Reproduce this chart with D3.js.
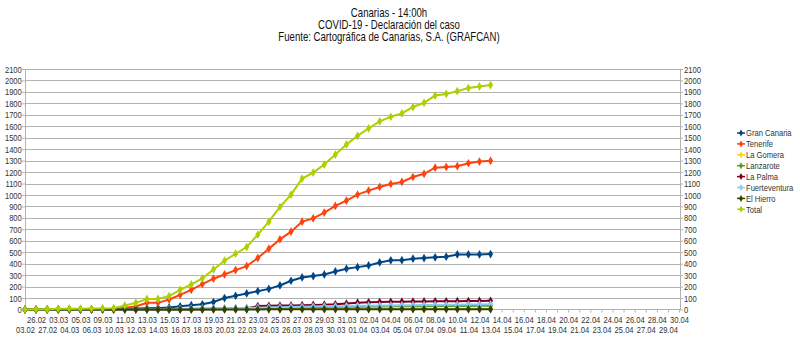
<!DOCTYPE html>
<html lang="es">
<head>
  <meta charset="UTF-8">
  <title>Canarias - COVID-19</title>
  <script src="https://d3js.org/d3.v7.min.js"></script>
  <style>
    body { margin: 0; background: #fff; }
    text { font-family: "Liberation Sans", Arial, sans-serif; fill: #333; }
  </style>
</head>
<body>
  <svg id="chart" width="800" height="340"></svg>
  <script>
    // categorias (fechas) del eje X
    const fechas = ["03.02", "26.02", "27.02", "03.03", "04.03", "05.03", "06.03",
      "09.03", "10.03", "11.03", "12.03", "13.03", "14.03", "15.03", "16.03", "17.03",
      "18.03", "19.03", "20.03", "21.03", "22.03", "23.03", "24.03", "25.03", "26.03",
      "27.03", "28.03", "29.03", "30.03", "31.03", "01.04", "02.04", "03.04", "04.04",
      "05.04", "06.04", "07.04", "08.04", "09.04", "10.04", "11.04", "12.04", "13.04",
      "14.04", "15.04", "16.04", "17.04", "18.04", "19.04", "20.04", "21.04", "22.04",
      "23.04", "24.04", "25.04", "26.04", "27.04", "28.04", "29.04", "30.04"];

    const grancanaria = [0, 0, 1, 1, 1, 1, 2, 2, 3, 5, 8, 12, 14, 18, 28, 38, 45, 65, 100, 120,
      140, 160, 180, 210, 251, 280, 292, 306, 332, 356, 370, 385, 411, 429, 431, 444,
      449, 456, 461, 481, 481, 481, 484];
    const tenerife = [0, 0, 0, 1, 1, 1, 1, 2, 3, 15, 26, 58, 58, 87, 128, 172, 222, 269,
      306, 344, 379, 449, 531, 612, 680, 767, 796, 846, 904, 951, 1003, 1038, 1070,
      1096, 1114, 1157, 1185, 1238, 1245, 1251, 1277, 1292, 1298];
    const lagomera = [1, 1, 1, 1, 1, 1, 1, 1, 1, 1, 1, 1, 1, 1, 2, 2, 3, 3, 3, 3, 4, 4,
      4, 5, 5, 5, 6, 6, 6, 6, 6, 6, 7, 7, 7, 7, 7, 7, 7, 7, 7, 7, 7];
    const lanzarote = [0, 0, 0, 0, 0, 0, 0, 0, 0, 1, 2, 3, 3, 4, 5, 6, 8, 9, 10, 12, 13,
      15, 16, 18, 19, 20, 21, 22, 23, 24, 25, 26, 27, 28, 28, 29, 29, 30, 30, 31, 31,
      32, 33];
    const lapalma = [0, 0, 0, 0, 0, 0, 0, 0, 0, 0, 0, 0, 0, 0, 0, 1, 2, 3, 4, 5, 8,
      30, 32, 34, 36, 38, 40, 42, 45, 52, 60, 63, 65, 67, 68, 69, 70, 71, 72, 73, 74,
      75, 76];
    const fuerteventura = [0, 0, 0, 0, 0, 0, 0, 0, 0, 0, 1, 1, 2, 3, 4, 5, 7, 8, 10, 12,
      14, 16, 18, 20, 22, 24, 26, 28, 29, 30, 32, 33, 34, 36, 37, 38, 39, 40, 41, 42,
      43, 44, 45];
    const elhierro = [0, 0, 0, 0, 0, 0, 0, 0, 0, 0, 0, 0, 0, 0, 0, 0, 0, 0, 0, 1, 1, 1,
      2, 2, 2, 3, 3, 3, 3, 3, 3, 3, 3, 3, 3, 3, 3, 3, 3, 3, 3, 3, 3];
    const total = [1, 2, 3, 6, 7, 7, 8, 9, 12, 35, 58, 92, 92, 117, 172, 219, 272, 350,
      426, 487, 545, 653, 767, 895, 1003, 1143, 1196, 1266, 1353, 1441, 1516, 1581,
      1642, 1683, 1712, 1768, 1805, 1868, 1882, 1907, 1934, 1948, 1960];

    const nombres = ["Gran Canaria", "Tenerife", "La Gomera", "Lanzarote", "La Palma",
      "Fuerteventura", "El Hierro", "Total"];
    const valores = [grancanaria, tenerife, lagomera, lanzarote, lapalma, fuerteventura,
      elhierro, total];
    const colores = ["#004586", "#ff420e", "#ffd320", "#579d1c", "#7e0021", "#83caff",
      "#314004", "#aecf00"];
    const yTicks = d3.range(0, 2101, 100);

    const svg = d3.select("#chart");
    const izq = 25, der = 680, arriba = 69, abajo = 309.5;
    const estrecho = "scale(0.8,1)"; // el original usa una letra estrecha

    const x = d3.scalePoint().domain(fechas).range([izq, der - 1]);
    const y = d3.scaleLinear().domain([0, 2100]).range([abajo, arriba]);

    // titulo
    const titulo = ["Canarias - 14:00h", "COVID-19 - Declaración del caso",
      "Fuente: Cartográfica de Canarias, S.A. (GRAFCAN)"];
    svg.selectAll(".titulo").data(titulo).join("g")
      .attr("transform", (d, i) => `translate(389,${17 + i * 11.8})`)
      .append("text")
      .attr("transform", estrecho)
      .attr("text-anchor", "middle")
      .attr("font-size", "12px")
      .style("fill", "#111")
      .text(d => d);

    // cuadricula
    svg.append("g")
      .selectAll("line").data(yTicks.slice(1)).join("line")
      .attr("x1", izq).attr("x2", der)
      .attr("y1", d => Math.round(y(d)) + 0.5).attr("y2", d => Math.round(y(d)) + 0.5)
      .attr("stroke", "#b3b3b3");

    // ejes Y
    const yIzq = svg.append("g").attr("transform", `translate(${izq},0)`)
      .call(d3.axisLeft(y).tickValues(yTicks).tickFormat(d3.format("d"))
        .tickSizeInner(3).tickSizeOuter(0).tickPadding(1));
    const yDer = svg.append("g").attr("transform", `translate(${der},0)`)
      .call(d3.axisRight(y).tickValues(yTicks).tickFormat(d3.format("d"))
        .tickSizeInner(3).tickSizeOuter(0).tickPadding(2));
    [yIzq, yDer].forEach(g => {
      g.select(".domain").attr("stroke", "#b3b3b3");
      g.selectAll(".tick line").attr("stroke", "#b3b3b3");
      g.selectAll(".tick text").attr("font-size", "9.5px").attr("font-family", null)
        .attr("transform", estrecho);
    });

    // eje X
    const xEje = svg.append("g").attr("transform", `translate(0,${abajo})`)
      .call(d3.axisBottom(x).tickSizeInner(3).tickSizeOuter(0).tickPadding(0));
    xEje.select(".domain").attr("stroke", "#b3b3b3").attr("d", `M${izq},0H${der}`);
    xEje.selectAll(".tick line").attr("stroke", "#b3b3b3");
    xEje.selectAll(".tick text")
      .attr("font-size", "9.5px").attr("font-family", null)
      .attr("transform", estrecho)
      .attr("y", 3)
      .attr("dy", (d, i) => i % 2 === 0 ? "21px" : "10.5px");

    // series
    const linea = d3.line().x((d, i) => x(fechas[i])).y(d => y(d));
    const marca = d3.symbol().type(d3.symbolDiamond).size(22);

    valores.forEach((serie, k) => {
      const g = svg.append("g");
      g.append("path")
        .attr("d", linea(serie))
        .attr("fill", "none")
        .attr("stroke", colores[k])
        .attr("stroke-width", 2);
      g.selectAll("path.m").data(serie).join("path")
        .attr("class", "m")
        .attr("transform", (d, i) => `translate(${x(fechas[i])},${y(d)})`)
        .attr("d", marca)
        .attr("fill", colores[k]);
    });

    // leyenda
    const ley = svg.append("g").attr("transform", "translate(737,133)");
    nombres.forEach((n, k) => {
      const f = ley.append("g").attr("transform", `translate(0,${k * 10.9})`);
      f.append("line").attr("x1", 0).attr("x2", 8).attr("stroke", colores[k]).attr("stroke-width", 1.5);
      f.append("path").attr("transform", "translate(4,0)")
        .attr("d", d3.symbol().type(d3.symbolDiamond).size(14)).attr("fill", colores[k]);
      f.append("g").attr("transform", "translate(9,3.3)")
        .append("text").attr("transform", estrecho).attr("font-size", "9.5px").text(n);
    });
  </script>
</body>
</html>
